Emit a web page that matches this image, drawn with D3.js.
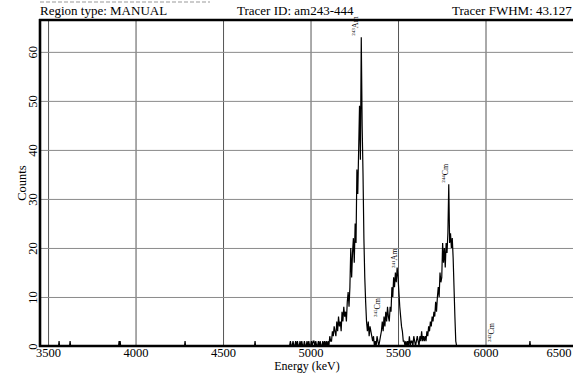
<!DOCTYPE html>
<html><head><meta charset="utf-8">
<script src="https://cdn.jsdelivr.net/npm/d3@7"></script>
<style>
body{margin:0;background:#fff}
svg{display:block}
text{font-family:"Liberation Serif","Times New Roman",serif;fill:#000}
</style>
</head><body>
<svg id="c" width="573" height="374"></svg>
<script>
const headerTexts = ["Region type: MANUAL", "Tracer ID: am243-444", "Tracer FWHM: 43.127"];
const xTicks = [3500, 4000, 4500, 5000, 5500, 6000, 6500];
const yTicks = [0, 10, 20, 30, 40, 50, 60];
const xLabel = "Energy (keV)";
const yLabel = "Counts";
const channelStart = 4880;
const channelWidth = 5;
const counts = [
  0,1,0,0,1,0,0,1,0,1,
  0,0,1,0,1,0,0,1,0,0,
  1,0,1,0,0,1,0,1,1,0,
  1,0,0,1,0,1,0,0,1,0,
  1,0,1,0,1,0,2,1,1,3,
  2,4,3,2,5,3,6,4,5,3,
  7,5,8,6,7,5,9,11,8,12,
  20,14,19,22,17,25,21,36,31,40,
  49,38,63,45,35,22,14,9,5,3,
  5,2,4,3,2,1,2,0,1,0,
  2,1,0,1,2,3,5,3,6,4,
  7,5,8,6,5,8,7,12,10,14,
  12,15,13,16,14,11,8,6,4,3,
  1,1,0,1,0,1,0,2,0,1,
  1,0,2,1,0,1,2,1,0,2,
  1,3,1,2,1,2,1,3,2,4,
  3,5,4,6,5,7,6,9,7,10,
  12,10,15,13,14,21,17,20,16,21,
  19,23,33,21,23,20,22,18,12,6,
  1,0,0,0,0,0,0,0,0,0,
  0,0,0,0,0
];
const strayEnergies = [3563, 3626, 3906, 3912, 4283, 4683, 6254];
const strayCounts = [1, 1, 1, 1, 1, 1, 1];
const peakIsotopes = ["243", "245", "241", "244", "242"];
const peakElements = ["Am", "Cm", "Am", "Cm", "Cm"];
const peakEnergies = [5257, 5382, 5483, 5774, 6037];
const peakLabelCounts = [63.3, 5.9, 15.9, 33.3, 0.8];

const svg = d3.select("#c");
const L = 40, R = 573, T = 20, B = 346;
const x = d3.scaleLinear().domain([3454, 6500]).range([L, R]);
const y = d3.scaleLinear().domain([0, 66.5]).range([B, T]);

// faint cut-off line at very top
svg.append("line").attr("x1", 40).attr("x2", 210).attr("y1", 2).attr("y2", 2)
  .attr("stroke", "#999").attr("stroke-width", 1.2).attr("stroke-dasharray", "4,2");

// header
const headerX = [40, 237, 452];
svg.selectAll("text.hdr").data(headerTexts).enter().append("text")
  .attr("class", "hdr").attr("x", (d, i) => headerX[i]).attr("y", 15)
  .attr("font-size", 13).text(d => d);

// vertical grid
const gx = svg.append("g").attr("transform", `translate(0,${B})`)
  .call(d3.axisBottom(x).tickValues(xTicks).tickSize(-(B - T)).tickFormat(""));
gx.select(".domain").remove();
gx.selectAll("line").attr("stroke", "#555").attr("stroke-width", 1);

// horizontal grid
const gy = svg.append("g").attr("transform", `translate(${L},0)`)
  .call(d3.axisLeft(y).tickValues(yTicks.slice(1)).tickSize(-(R - L)).tickFormat(""));
gy.select(".domain").remove();
gy.selectAll("line").attr("stroke", "#8a8a8a").attr("stroke-width", 1);

// spectrum
const pts = [[3454, 0], [6500, 0]];
strayEnergies.forEach((e, i) => { pts.push([e - 3, 0], [e, strayCounts[i]], [e + 3, 0]); });
counts.forEach((c, i) => pts.push([channelStart + i * channelWidth, c]));
pts.sort((a, b) => a[0] - b[0]);
svg.append("path").datum(pts)
  .attr("d", d3.line().x(d => x(d[0])).y(d => y(d[1])))
  .attr("fill", "none").attr("stroke", "#000").attr("stroke-width", 1.2);

// frame
svg.append("line").attr("x1", L).attr("x2", L).attr("y1", T - 1).attr("y2", B + 1)
  .attr("stroke", "#000").attr("stroke-width", 2.6);
svg.append("line").attr("x1", L - 1).attr("x2", R).attr("y1", T).attr("y2", T)
  .attr("stroke", "#000").attr("stroke-width", 2.4);
svg.append("line").attr("x1", L - 1).attr("x2", R).attr("y1", B).attr("y2", B)
  .attr("stroke", "#000").attr("stroke-width", 2.4);

// x tick labels
const ax = svg.append("g").attr("transform", `translate(0,${B})`)
  .call(d3.axisBottom(x).tickValues(xTicks).tickSize(0).tickPadding(2).tickFormat(d3.format("d")));
ax.select(".domain").remove();
ax.selectAll("text").attr("font-size", 12.5).attr("font-family", "Liberation Serif").attr("fill", "#000");
ax.selectAll("text").filter(d => d === 6500).attr("text-anchor", "end").attr("dx", -2);

// y tick labels (rotated)
const ay = svg.append("g").attr("transform", `translate(${L},0)`)
  .call(d3.axisLeft(y).tickValues(yTicks).tickSize(0).tickFormat(d3.format("d")));
ay.select(".domain").remove();
ay.selectAll("text").attr("transform", "rotate(-90)").attr("text-anchor", "middle")
  .attr("x", 0).attr("y", -7.5).attr("dy", "0.35em")
  .attr("font-size", 12.5).attr("font-family", "Liberation Serif").attr("fill", "#000");

// axis titles
svg.append("text").attr("x", 307).attr("y", 369.5).attr("text-anchor", "middle")
  .attr("font-size", 12).text(xLabel);
svg.append("text").attr("transform", "translate(21.5,183) rotate(-90)")
  .attr("text-anchor", "middle").attr("dy", "0.35em").attr("font-size", 12.5).text(yLabel);

// peak labels
peakIsotopes.forEach((iso, i) => {
  const t = svg.append("text")
    .attr("transform", `translate(${x(peakEnergies[i])},${y(peakLabelCounts[i])}) rotate(-90)`)
    .attr("text-anchor", "start").attr("dy", "0.35em").attr("font-size", 8);
  t.append("tspan").attr("font-size", 5).attr("dy", "-0.1em").text(iso);
  t.append("tspan").attr("dy", "0.35em").text(peakElements[i]);
});
</script>
</body></html>
